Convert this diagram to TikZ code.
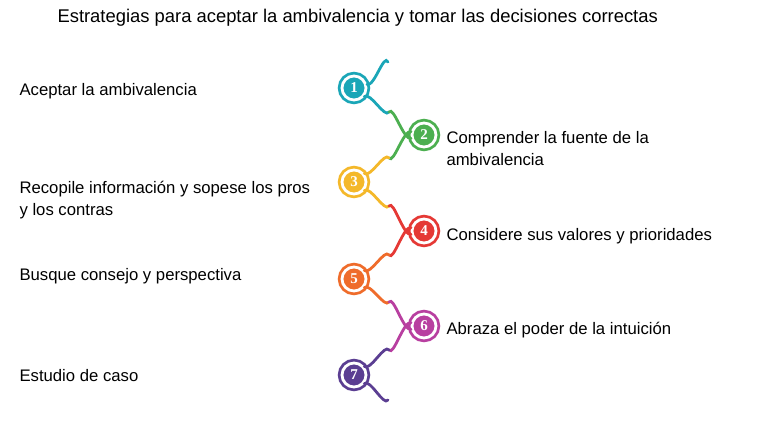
\documentclass[tikz,border=0pt]{standalone}
\usepackage{fontspec}
\setmainfont{Liberation Sans}
\newfontfamily\numfont{Liberation Serif}
\begin{document}
\begin{tikzpicture}[x=1pt,y=-1pt,
  step/.style={circle,fill=#1,draw=#1,double=white,line width=2.8pt,double distance=2.8pt,minimum size=24pt,inner sep=0pt,text=white,font=\numfont\bfseries\fontsize{15}{15}\selectfont},
  con/.style={line width=2.8pt,draw=#1,line cap=round},
  lbl/.style={anchor=west,align=left,font=\fontsize{16.7}{22}\selectfont}]
\useasboundingbox (0,0) rectangle (768,432);
\definecolor{c1}{HTML}{1AA6B7}\definecolor{c2}{HTML}{4CAF50}\definecolor{c3}{HTML}{F4B82A}
\definecolor{c4}{HTML}{E53935}\definecolor{c5}{HTML}{EF6C2B}\definecolor{c6}{HTML}{B83FA0}\definecolor{c7}{HTML}{5B3E92}
\node[anchor=west,font=\fontsize{18.4}{20}\selectfont] (t) at (54,18) {Estrategias para aceptar la ambivalencia y tomar las decisiones correctas};
\node[step=c1] (n1) at (354,88) {1};
\node[step=c2] (n2) at (424,135) {2};
\node[step=c3] (n3) at (354,182) {3};
\node[step=c4] (n4) at (424,231) {4};
\node[step=c5] (n5) at (354,279) {5};
\node[step=c6] (n6) at (424,326) {6};
\node[step=c7] (n7) at (354,375) {7};
\coordinate (top) at (388,62);
\coordinate (bot) at (388,400);
\coordinate (m12) at (389,112);\coordinate (m23) at (389,158);
\coordinate (m34) at (389,206);\coordinate (m45) at (389,255);
\coordinate (m56) at (389,302);\coordinate (m67) at (389,350);
\draw[con=c1] (n1.15) .. controls +(15:8) and +(-115:10) .. (top);
\foreach \a/\b/\m in {1/2/m12,3/4/m34,5/6/m56}{
  \draw[con=c\a] (n\a.-40) .. controls +(-40:8) and +(125:8) .. (\m);
  \draw[con=c\b] (\m) .. controls +(-55:8) and +(170:8) .. (n\b.195);}
\foreach \a/\b/\m in {2/3/m23,4/5/m45,6/7/m67}{
  \draw[con=c\a] (n\a.165) .. controls +(-170:8) and +(55:8) .. (\m);
  \draw[con=c\b] (\m) .. controls +(-125:8) and +(40:8) .. (n\b.40);}
\draw[con=c7] (n7.-40) .. controls +(-40:8) and +(125:8) .. (bot);
\node[lbl] (l1) at (16,91) {Aceptar la ambivalencia};
\node[lbl] (l2) at (443,149) {Comprender la fuente de la\\ambivalencia};
\node[lbl] (l3) at (16,200) {Recopile información y sopese los pros\\y los contras};
\node[lbl] (l4) at (443,236) {Considere sus valores y prioridades};
\node[lbl] (l5) at (16,276) {Busque consejo y perspectiva};
\node[lbl] (l6) at (443,330) {Abraza el poder de la intuición};
\node[lbl] (l7) at (16,376) {Estudio de caso};
\end{tikzpicture}
\end{document}
